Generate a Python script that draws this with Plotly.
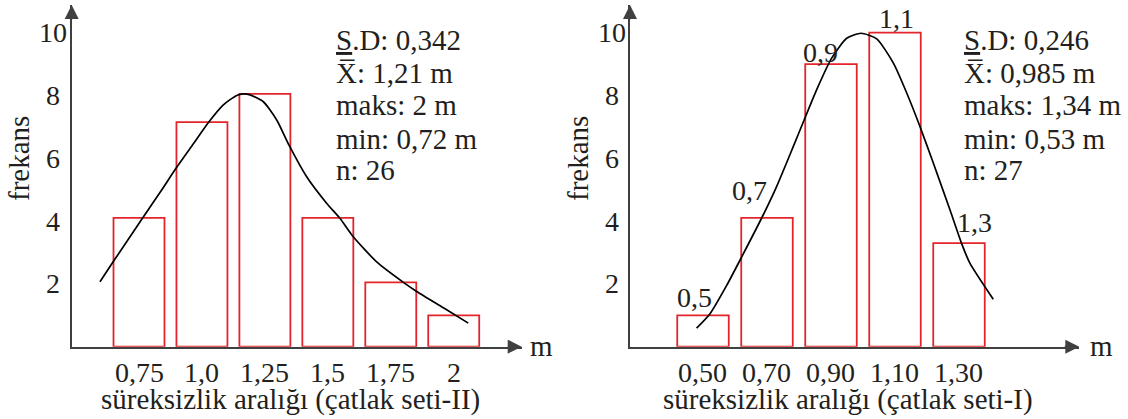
import plotly.graph_objects as go

# ---------------- data ----------------
# Left panel: çatlak seti-II
cat_left = [0.75, 1.0, 1.25, 1.5, 1.75, 2.0]
tick_left = ["0,75", "1,0", "1,25", "1,5", "1,75", "2"]
freq_left = [4.1, 7.15, 8.05, 4.1, 2.05, 1.0]
curve_left_x = [0.595, 0.648, 0.761, 0.840, 0.897, 0.966, 1.025, 1.085, 1.138, 1.164,
                1.191, 1.244, 1.297, 1.347, 1.416, 1.495, 1.548, 1.601, 1.694, 1.800,
                1.853, 1.959, 2.058]
curve_left_y = [2.07, 2.71, 4.06, 4.99, 5.68, 6.46, 7.13, 7.70, 8.00, 8.05,
                8.02, 7.80, 7.22, 6.40, 5.41, 4.57, 4.09, 3.50, 2.70, 2.05,
                1.76, 1.24, 0.75]
stats_left = ["<u>S</u>.D: 0,342",
              "X\u0305: 1,21 m",
              "maks: 2 m", "min: 0,72 m", "n: 26"]
xtitle_left = "süreksizlik aralığı (çatlak seti-II)"

# Right panel: çatlak seti-I
cat_right = [0.5, 0.7, 0.9, 1.1, 1.3]
tick_right = ["0,50", "0,70", "0,90", "1,10", "1,30"]
bar_labels_right = ["0,5", "0,7", "0,9", "1,1", "1,3"]
freq_right = [1.0, 4.1, 9.0, 10.0, 3.3]
curve_right_x = [0.480, 0.522, 0.574, 0.623, 0.683, 0.730, 0.782, 0.816, 0.855, 0.902,
                 0.949, 0.994, 1.043, 1.095, 1.137, 1.178, 1.220, 1.272, 1.308, 1.334, 1.407]
curve_right_y = [0.59, 1.05, 1.95, 2.90, 4.09, 5.10, 6.37, 7.22, 8.18, 9.19,
                 9.82, 9.98, 9.80, 9.03, 8.07, 7.01, 5.84, 4.35, 3.29, 2.66, 1.51]
stats_right = ["<u>S</u>.D: 0,246",
               "X\u0305: 0,985 m",
               "maks: 1,34 m", "min: 0,53 m", "n: 27"]
xtitle_right = "süreksizlik aralığı (çatlak seti-I)"

y_ticks = [2, 4, 6, 8, 10]
y_title = "frekans"
x_unit = "m"

# ---------------- style ----------------
W, H = 1128, 419
FONT = "Liberation Serif, Times New Roman, serif"
FS_TICK = 28
FS = 29
TXT = "#231f20"
RED = "#e3242b"
AXC = "#404040"


def px_x(p):
    return p / W


def px_y(p):
    return (H - p) / H


fig = go.Figure()

fig.add_trace(go.Bar(x=cat_left, y=freq_left, width=0.2025, xaxis="x", yaxis="y",
                     marker=dict(color="white", line=dict(color=RED, width=1.8)),
                     showlegend=False, hoverinfo="skip"))
fig.add_trace(go.Scatter(x=curve_left_x, y=curve_left_y, mode="lines", xaxis="x", yaxis="y",
                         line=dict(color="black", width=1.7, shape="spline", smoothing=0.6),
                         showlegend=False, hoverinfo="skip"))
fig.add_trace(go.Bar(x=cat_right, y=freq_right, width=0.161, xaxis="x2", yaxis="y2",
                     marker=dict(color="white", line=dict(color=RED, width=1.8)),
                     showlegend=False, hoverinfo="skip"))
fig.add_trace(go.Scatter(x=curve_right_x, y=curve_right_y, mode="lines", xaxis="x2", yaxis="y2",
                         line=dict(color="black", width=1.7, shape="spline", smoothing=0.6),
                         showlegend=False, hoverinfo="skip"))

xl_range = [0.4827, 2.27]
xr_range = [0.27188, 1.67594]
y_range = [0, 10.88]
y_dom = [px_y(346.7), px_y(5)]

common_x = dict(showgrid=False, zeroline=False, showline=True, linecolor=AXC, linewidth=2,
                ticks="", showticklabels=False, fixedrange=True)
common_y = dict(showgrid=False, zeroline=False, showline=True, linecolor=AXC, linewidth=2,
                ticks="", showticklabels=False, range=y_range, domain=y_dom, fixedrange=True)

fig.update_layout(
    width=W, height=H, autosize=False,
    margin=dict(l=0, r=0, t=0, b=0, pad=0),
    paper_bgcolor="white", plot_bgcolor="white",
    bargap=0,
    xaxis=dict(domain=[px_x(71.7), px_x(521.7)], range=xl_range, anchor="y", **common_x),
    yaxis=dict(anchor="x", **common_y),
    xaxis2=dict(domain=[px_x(630), px_x(1079.3)], range=xr_range, anchor="y2", **common_x),
    yaxis2=dict(anchor="x2", **common_y),
)

ann = []
font = dict(family=FONT, size=FS, color=TXT)
font_tick = dict(family=FONT, size=FS_TICK, color=TXT)

# axis arrowheads
for xr, yr, xrng in (("x", "y", xl_range), ("x2", "y2", xr_range)):
    ann.append(dict(x=xrng[1], y=0, ax=xrng[1] - 0.05, ay=0, xref=xr, yref=yr, axref=xr, ayref=yr,
                    showarrow=True, arrowhead=2, arrowsize=1.4, arrowwidth=2, arrowcolor=AXC, text=""))
    ann.append(dict(x=xrng[0], y=y_range[1], ax=xrng[0], ay=y_range[1] - 0.5, xref=xr, yref=yr,
                    axref=xr, ayref=yr, showarrow=True, arrowhead=2, arrowsize=1.4, arrowwidth=2,
                    arrowcolor=AXC, text=""))

# x tick labels (category positions on the data axes)
for xr, cats, labels in (("x", cat_left, tick_left), ("x2", cat_right, tick_right)):
    for c, t in zip(cats, labels):
        ann.append(dict(x=c, y=px_y(372), xref=xr, yref="paper", text=t, showarrow=False,
                        xanchor="center", yanchor="middle", font=font_tick))

# y tick labels (centred)
for yr, xc in (("y", 53.3), ("y2", 611.5)):
    for v in y_ticks:
        ann.append(dict(x=px_x(xc), y=v, xref="paper", yref=yr, text=str(v), showarrow=False,
                        xanchor="center", yanchor="middle", font=font_tick))

# y titles
for xc in (19, 578):
    ann.append(dict(x=px_x(xc), y=px_y(159), xref="paper", yref="paper", text=y_title,
                    textangle=-90, showarrow=False, xanchor="center", yanchor="middle", font=font))

# x titles
for xc, t in ((290, xtitle_left), (847.5, xtitle_right)):
    ann.append(dict(x=px_x(xc), y=px_y(399), xref="paper", yref="paper", text=t,
                    showarrow=False, xanchor="center", yanchor="middle", font=font))

# unit labels
for xc in (541, 1101):
    ann.append(dict(x=px_x(xc), y=px_y(346), xref="paper", yref="paper", text=x_unit,
                    showarrow=False, xanchor="center", yanchor="middle", font=font))

# statistics blocks
line_y = [40, 72.5, 105.5, 138.5, 170.5]
for xl, lines in ((334.3, stats_left), (961.7, stats_right)):
    for ly, t in zip(line_y, lines):
        ann.append(dict(x=px_x(xl), y=px_y(ly), xref="paper", yref="paper", text=t,
                        showarrow=False, xanchor="left", yanchor="middle", font=font))

# labels above right-panel bars (pixel offsets)
shifts = [(-8, 18), (-17, 27), (-10, 12), (2, 14), (16, 21)]
for c, h, t, (dx, dy) in zip(cat_right, freq_right, bar_labels_right, shifts):
    ann.append(dict(x=c, y=h, xref="x2", yref="y2", text=t, showarrow=False,
                    xanchor="center", yanchor="middle", xshift=dx, yshift=dy, font=font_tick))

fig.update_layout(annotations=ann)
fig.write_html("out.html", config={"staticPlot": True},
               post_script="document.body.style.margin='0';document.body.style.overflow='hidden';")
